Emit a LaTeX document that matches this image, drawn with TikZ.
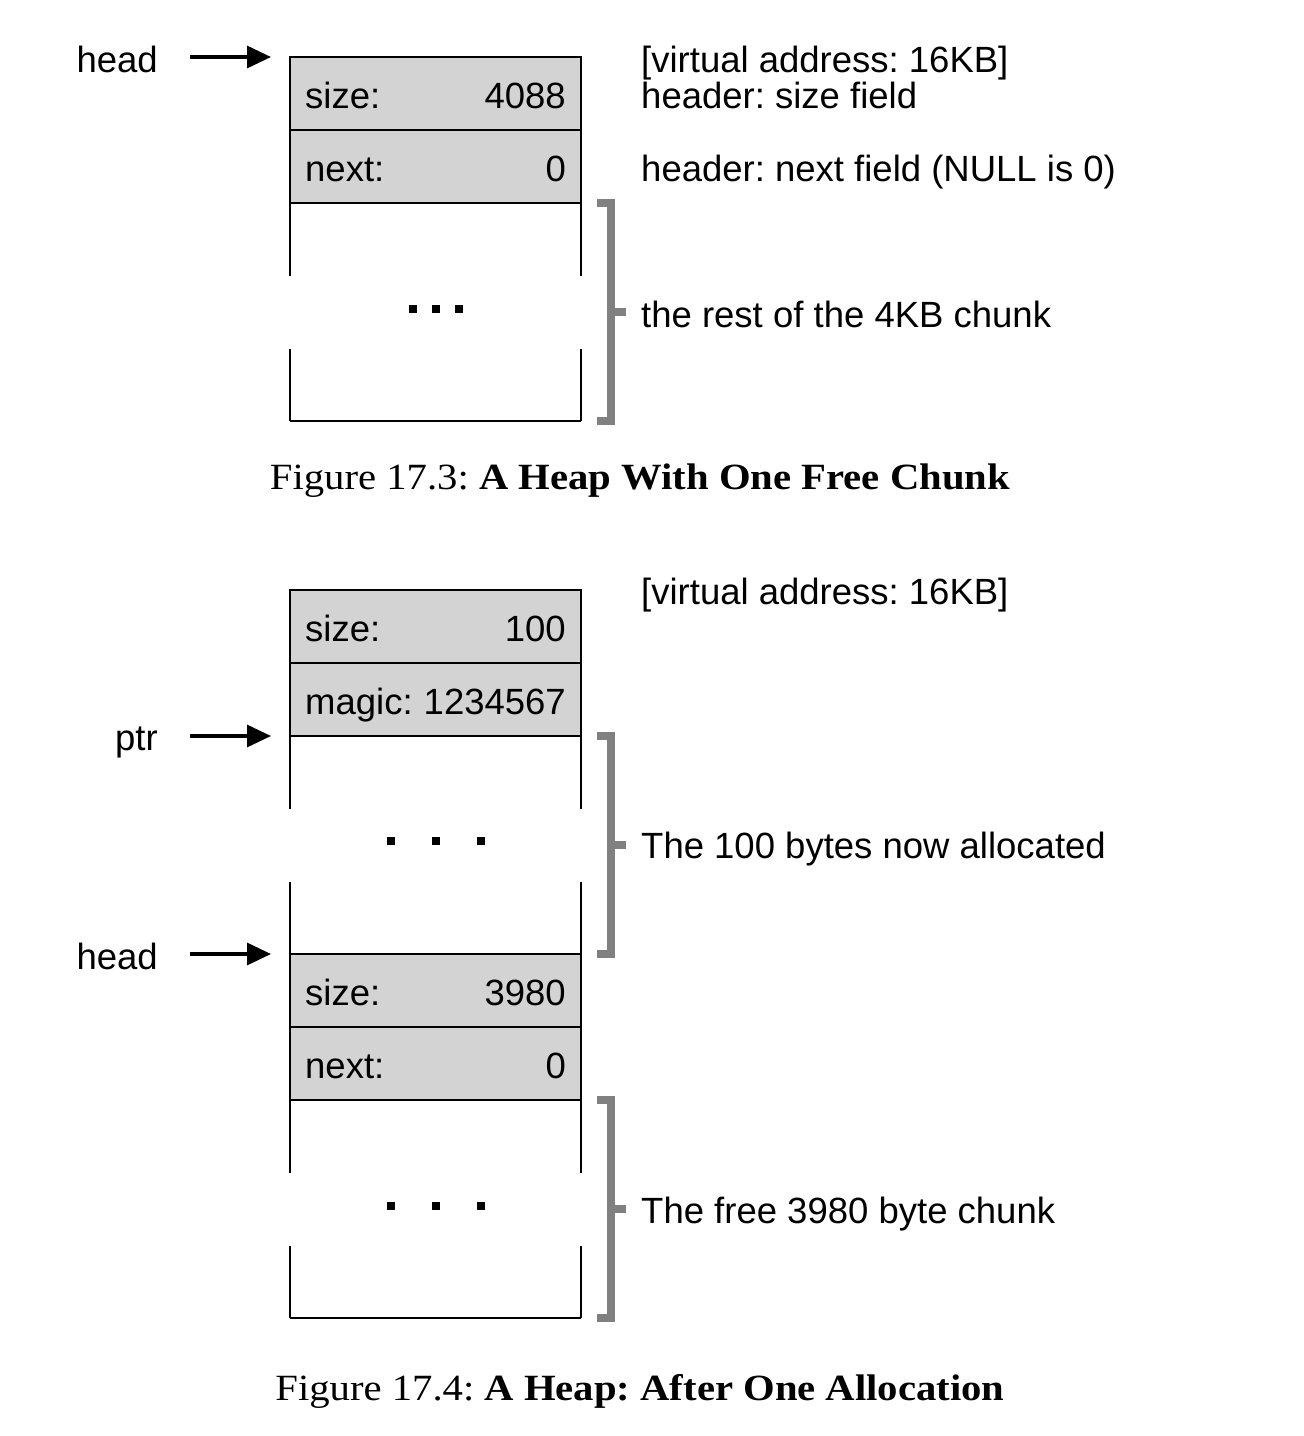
\documentclass[tikz,border=0pt]{standalone}
\usepackage{fontspec}
\setmainfont{Liberation Sans}
\newfontfamily\capfont[FakeStretch=1.10]{Liberation Serif}
\usetikzlibrary{arrows.meta,calc}
\definecolor{cellgray}{RGB}{211,211,211}
\definecolor{brkgray}{RGB}{128,128,128}
\frenchspacing
\begin{document}
\begin{tikzpicture}[x=1pt,y=-1pt,
 cell/.style={draw, line width=2pt, fill=cellgray, minimum width=291pt, minimum height=73pt, inner sep=0pt, outer sep=0pt},
 blank/.style={draw=none, minimum width=291pt, minimum height=218pt, inner sep=0pt, outer sep=0pt},
 lbl/.style={font=\fontsize{36.5}{42}\selectfont, inner sep=0pt},
 side/.style={line width=2pt},
 brk/.style={draw=brkgray, line width=8pt},
 dotsq/.style={fill=black, minimum size=8pt, inner sep=0pt},
 ptrarrow/.style={line width=3.2pt, -{Triangle[length=24pt,width=22pt]}, shorten <=32pt, shorten >=19pt},
 captext/.style={font=\capfont\fontsize{37}{44}\selectfont, inner sep=0pt}]
\path[use as bounding box] (0,0) rectangle (1304,1436);

% ---------- Figure 17.3 ----------
\node[cell] (s1) at (435.5,93.5) {};
\node[cell] (n1) at (435.5,166.5) {};
\node[blank] (w1) at (435.5,312) {};
\draw[side] (w1.north west) -- ++(0,73) (w1.south west) -- ++(0,-72)
            (w1.north east) -- ++(0,73) (w1.south east) -- ++(0,-72)
            (w1.south west) -- (w1.south east);
\node[dotsq] (d1a) at (413,309) {};
\node[dotsq] (d1b) at (436,309) {};
\node[dotsq] (d1c) at (459,309) {};

\node[lbl, anchor=base west] (s1l) at ([xshift=15pt,yshift=-14.5pt]s1.west) {size:};
\node[lbl, anchor=base east] (s1r) at ([xshift=-15pt,yshift=-14.5pt]s1.east) {4088};
\node[lbl, anchor=base west] (n1l) at ([xshift=15pt,yshift=-14.5pt]n1.west) {next:};
\node[lbl, anchor=base east] (n1r) at ([xshift=-15pt,yshift=-14.5pt]n1.east) {0};

\node[lbl, anchor=base east] (head1) at (158,72) {head};
\draw[ptrarrow] (head1.east |- s1.north west) -- (s1.north west);

\node[lbl, anchor=base west] (va1) at (641,72) {[virtual address: 16KB]};
\node[lbl, anchor=base west] (hs1) at (641,108) {header: size field};
\node[lbl, anchor=base west] (hn1) at (641,181) {header: next field (NULL is 0)};
\node[lbl, anchor=base west] (rest1) at (641,327) {the rest of the 4KB chunk};

\draw[brk] ($(w1.north east)+(16,0)$) -- ++(14,0) -- ($(w1.south east)+(30,0)$) -- ++(-14,0);
\draw[brk] ($(w1.east)+(30,0)$) -- ++(15,0);

\node[captext, anchor=base] (cap1) at (640,489) {Figure 17.3: \textbf{A Heap With One Free Chunk}};

% ---------- Figure 17.4 ----------
\node[cell] (s2) at (435.5,626.5) {};
\node[cell] (m2) at (435.5,699.5) {};
\node[blank] (w2) at (435.5,845) {};
\draw[side] (w2.north west) -- ++(0,73) (w2.south west) -- ++(0,-72)
            (w2.north east) -- ++(0,73) (w2.south east) -- ++(0,-72);
\node[cell] (s3) at (435.5,990.5) {};
\node[cell] (n3) at (435.5,1063.5) {};
\node[blank] (w3) at (435.5,1209) {};
\draw[side] (w3.north west) -- ++(0,73) (w3.south west) -- ++(0,-72)
            (w3.north east) -- ++(0,73) (w3.south east) -- ++(0,-72)
            (w3.south west) -- (w3.south east);
\node[dotsq] (d2a) at (391,841) {};
\node[dotsq] (d2b) at (436,841) {};
\node[dotsq] (d2c) at (481,841) {};
\node[dotsq] (d3a) at (391,1206) {};
\node[dotsq] (d3b) at (436,1206) {};
\node[dotsq] (d3c) at (481,1206) {};

\node[lbl, anchor=base west] (s2l) at ([xshift=15pt,yshift=-14.5pt]s2.west) {size:};
\node[lbl, anchor=base east] (s2r) at ([xshift=-15pt,yshift=-14.5pt]s2.east) {100};
\node[lbl, anchor=base west] (m2l) at ([xshift=15pt,yshift=-14.5pt]m2.west) {magic:};
\node[lbl, anchor=base east] (m2r) at ([xshift=-15pt,yshift=-14.5pt]m2.east) {1234567};
\node[lbl, anchor=base west] (s3l) at ([xshift=15pt,yshift=-14.5pt]s3.west) {size:};
\node[lbl, anchor=base east] (s3r) at ([xshift=-15pt,yshift=-14.5pt]s3.east) {3980};
\node[lbl, anchor=base west] (n3l) at ([xshift=15pt,yshift=-14.5pt]n3.west) {next:};
\node[lbl, anchor=base east] (n3r) at ([xshift=-15pt,yshift=-14.5pt]n3.east) {0};

\node[lbl, anchor=base east] (ptr2) at (158,750) {ptr};
\draw[ptrarrow] (ptr2.east |- w2.north west) -- (w2.north west);
\node[lbl, anchor=base east] (head2) at (158,969) {head};
\draw[ptrarrow] (head2.east |- s3.north west) -- (s3.north west);

\node[lbl, anchor=base west] (va2) at (641,604) {[virtual address: 16KB]};
\node[lbl, anchor=base west] (al2) at (641,858) {The 100 bytes now allocated};
\node[lbl, anchor=base west] (fr3) at (641,1223) {The free 3980 byte chunk};

\draw[brk] ($(w2.north east)+(16,0)$) -- ++(14,0) -- ($(w2.south east)+(30,0)$) -- ++(-14,0);
\draw[brk] ($(w2.east)+(30,0)$) -- ++(15,0);
\draw[brk] ($(w3.north east)+(16,0)$) -- ++(14,0) -- ($(w3.south east)+(30,0)$) -- ++(-14,0);
\draw[brk] ($(w3.east)+(30,0)$) -- ++(15,0);

\node[captext, anchor=base] (cap2) at (640,1400) {Figure 17.4: \textbf{A Heap: After One Allocation}};
\end{tikzpicture}
\end{document}
